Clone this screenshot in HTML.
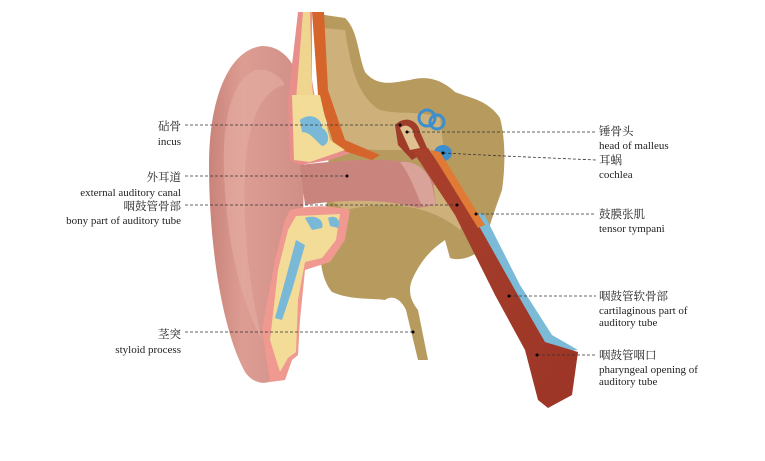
<!DOCTYPE html>
<html><head><meta charset="utf-8"><style>
body{margin:0;background:#fff;width:765px;height:461px;overflow:hidden}
svg{display:block}
.zh{font-family:"Liberation Serif","Noto Serif CJK SC",serif;font-size:11.5px;fill:#222}
.en{font-family:"Liberation Serif",serif;font-size:11px;fill:#222}
.ld{stroke:#333;stroke-width:0.8;stroke-dasharray:3 2;fill:none}
</style></head><body>
<svg width="765" height="461" viewBox="0 0 765 461">
<defs>
<linearGradient id="ear" x1="0" x2="1" y1="0" y2="0">
<stop offset="0" stop-color="#c9837a"/><stop offset="0.35" stop-color="#dd9d93"/><stop offset="1" stop-color="#cf8e86"/></linearGradient>
<linearGradient id="tube" x1="0" x2="1" y1="0" y2="1">
<stop offset="0" stop-color="#a8402c"/><stop offset="1" stop-color="#9c3526"/></linearGradient>
</defs>
<path d="M318,14 L345,18 C358,30 358,55 365,72 C378,88 395,82 410,80 C425,76 440,78 455,92 C470,98 488,100 500,118 C506,140 505,170 502,190 C495,210 488,228 485,245 C478,255 462,262 450,258 L445,240 C430,250 420,262 412,280 C408,290 410,300 418,310 L428,360 L418,360 L406,310 C400,298 392,295 385,300 C370,298 350,300 332,292 C322,280 318,260 322,230 C330,200 330,150 325,100 L318,40 Z" fill="#b79a5e"/>
<path d="M322,28 L345,30 C350,60 355,95 380,110 C400,115 420,110 440,118 L445,160 C430,150 405,150 390,150 C360,150 345,148 330,150 Z" fill="#cdb07a"/>
<path d="M330,200 C370,185 410,185 445,185 L470,210 L460,230 C430,205 390,200 345,210 Z" fill="#cdb07a"/>
<path d="M262,46 C228,50 209,100 209,165 C209,245 222,330 245,372 C256,388 276,386 282,368 L295,290 L303,225 L305,120 C304,80 292,46 262,46 Z" fill="url(#ear)"/>
<path d="M255,70 C232,80 222,120 224,170 C226,240 240,300 262,340 C250,290 242,230 245,170 C248,120 262,90 285,85 C280,75 268,68 255,70 Z" fill="#e3aaa0" opacity="0.7"/>
<path d="M298,12 L312,12 L312,80 L322,140 L360,150 L330,160 L300,165 L290,160 L288,100 Z" fill="#e88f8c"/>
<path d="M303,12 L310,12 L312,85 L318,140 L320,155 L300,158 L296,100 Z" fill="#f0d58f"/>
<path d="M312,12 L324,12 L328,90 L345,140 L380,155 L372,160 L335,148 L318,95 Z" fill="#d6652c"/>
<path d="M292,95 L320,95 L330,140 L345,150 L310,162 L294,160 Z" fill="#f2dc98"/>
<path d="M300,120 C310,112 322,118 322,128 C330,132 330,145 322,146 C315,140 310,132 302,132 Z" fill="#79b8d6"/>
<path d="M300,165 C340,160 380,158 410,162 L432,175 L436,205 L418,208 C390,200 350,198 305,205 Z" fill="#c9857d"/>
<path d="M400,162 C415,160 428,170 432,185 L436,205 L422,206 C415,190 410,175 400,162 Z" fill="#d9a39a"/>
<path d="M290,210 C310,205 330,205 350,210 L345,240 L330,262 L305,270 L300,320 L298,355 L292,360 L285,380 L270,382 L262,330 L275,260 L285,220 Z" fill="#ef9990"/>
<path d="M296,216 L340,214 L336,240 L322,258 L305,262 L298,300 L296,352 L288,358 L280,372 L270,340 L278,270 L288,230 Z" fill="#f2dc98"/>
<path d="M305,218 C315,214 325,220 322,228 L312,230 Z M328,218 C335,214 342,220 338,228 L330,226 Z" fill="#79b8d6"/>
<path d="M296,240 L305,245 L292,290 L282,320 L275,318 L288,270 Z" fill="#79b8d6"/>
<path d="M395,125 C405,115 418,120 420,132 L428,150 L412,160 L398,145 Z" fill="#a03c2a"/>
<path d="M400,128 C406,122 414,128 414,136 L420,148 L410,150 Z" fill="#e0c090"/>
<circle cx="427" cy="118" r="8" fill="none" stroke="#3c8fcc" stroke-width="3"/>
<circle cx="437" cy="122" r="7" fill="none" stroke="#3c8fcc" stroke-width="3"/>
<ellipse cx="443" cy="153" rx="9" ry="8" fill="#3c8fcc"/>
<path d="M472,212 L484,214 L520,285 L552,335 L578,350 L560,352 L535,345 L505,290 Z" fill="#7cbbd8"/>
<path d="M412,150 L428,148 L470,210 L515,290 L545,342 L578,352 L572,395 L548,408 L538,400 L525,350 L495,295 L455,215 Z" fill="url(#tube)"/>
<path d="M430,150 L440,152 L485,225 L478,228 Z" fill="#e07a35"/>
<path class="ld" d="M185,125 L400,125"/><circle cx="400" cy="125" r="1.5"/>
<path class="ld" d="M185,176 L347,176"/><circle cx="347" cy="176" r="1.5"/>
<path class="ld" d="M185,205 L457,205"/><circle cx="457" cy="205" r="1.5"/>
<path class="ld" d="M185,332 L413,332"/><circle cx="413" cy="332" r="1.5"/>
<path class="ld" d="M407,132 L596,132"/><circle cx="407" cy="132" r="1.5"/>
<path class="ld" d="M443,153 L504,156 L596,160"/><circle cx="443" cy="153" r="1.5"/>
<path class="ld" d="M476,214 L596,214"/><circle cx="476" cy="214" r="1.5"/>
<path class="ld" d="M509,296 L596,296"/><circle cx="509" cy="296" r="1.5"/>
<path class="ld" d="M537,355 L596,355"/><circle cx="537" cy="355" r="1.5"/>
<g text-anchor="end">
<text class="zh" x="181" y="130">砧骨</text><text class="en" x="181" y="145">incus</text>
<text class="zh" x="181" y="181">外耳道</text><text class="en" x="181" y="196">external auditory canal</text>
<text class="zh" x="181" y="210">咽鼓管骨部</text><text class="en" x="181" y="224">bony part of auditory tube</text>
<text class="zh" x="181" y="338">茎突</text><text class="en" x="181" y="353">styloid process</text>
</g>
<text class="zh" x="599" y="135">锤骨头</text><text class="en" x="599" y="149">head of malleus</text>
<text class="zh" x="599" y="164">耳蜗</text><text class="en" x="599" y="178">cochlea</text>
<text class="zh" x="599" y="218">鼓膜张肌</text><text class="en" x="599" y="232">tensor tympani</text>
<text class="zh" x="599" y="300">咽鼓管软骨部</text><text class="en" x="599" y="314">cartilaginous part of</text><text class="en" x="599" y="326">auditory tube</text>
<text class="zh" x="599" y="359">咽鼓管咽口</text><text class="en" x="599" y="373">pharyngeal opening of</text><text class="en" x="599" y="385">auditory tube</text>
</svg>
</body></html>
